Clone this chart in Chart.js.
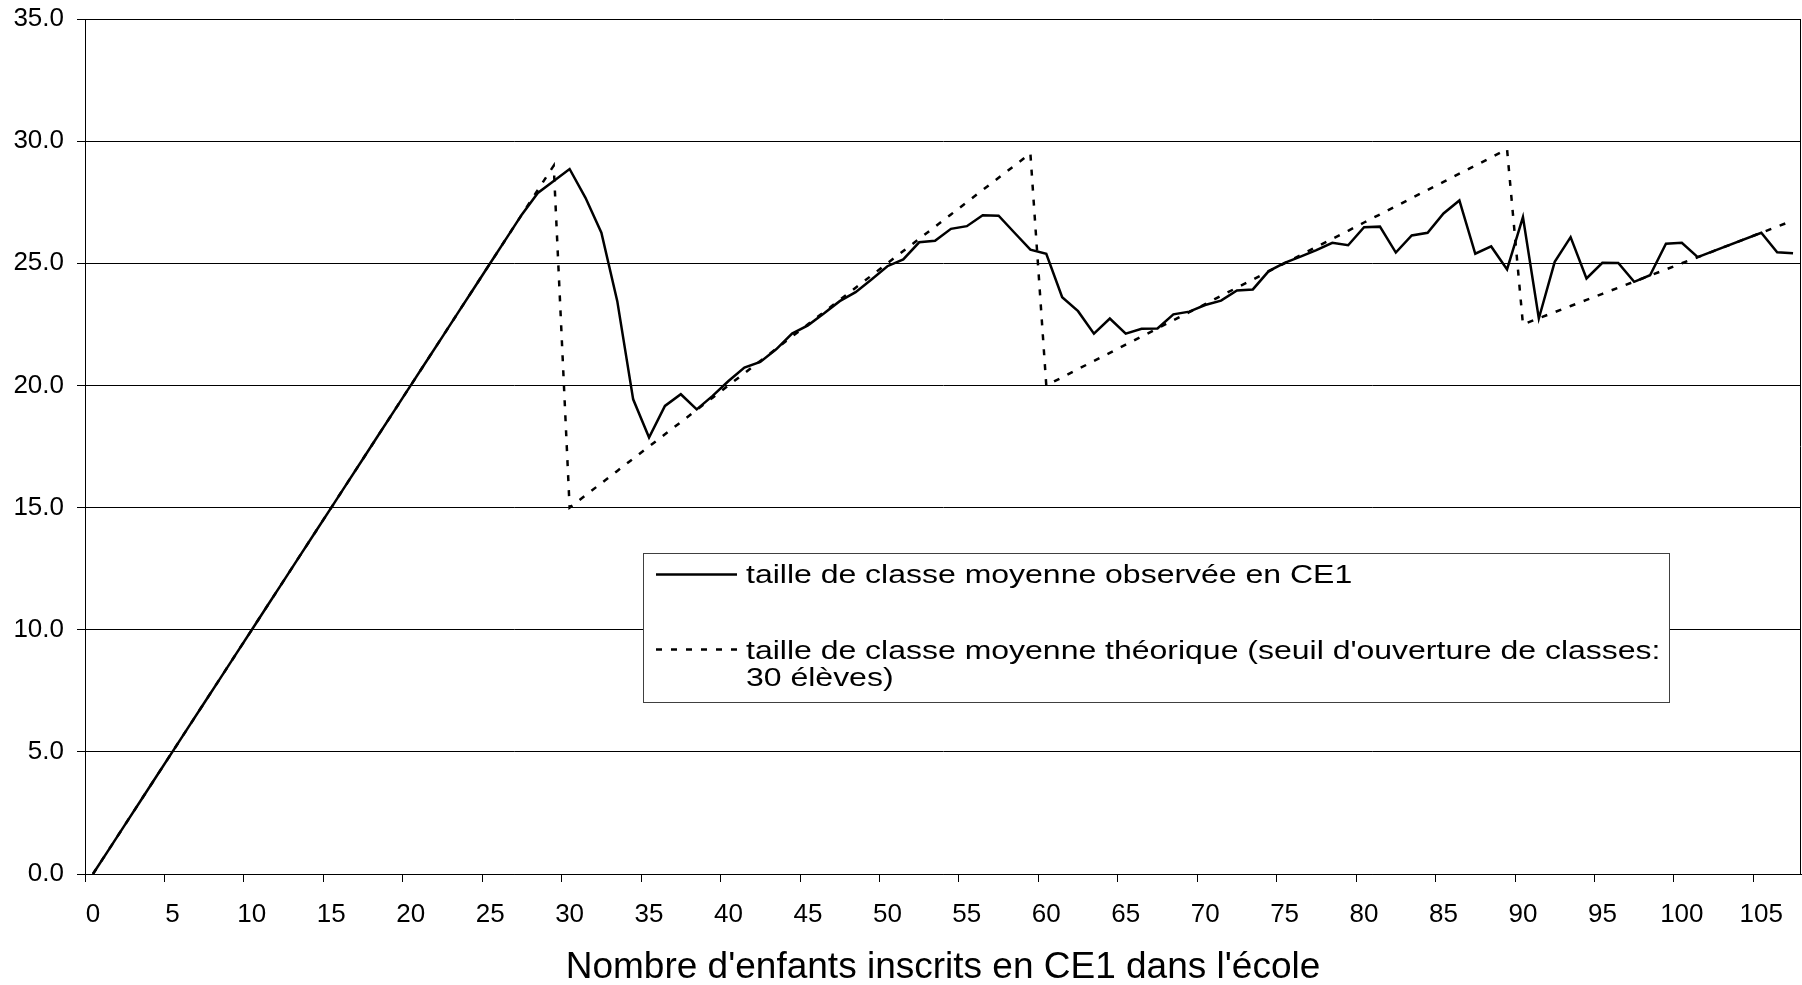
<!DOCTYPE html>
<html>
<head>
<meta charset="utf-8">
<script src="https://cdn.jsdelivr.net/npm/chart.js@4.4.1/dist/chart.umd.min.js"></script>
<style>
  html, body { margin: 0; padding: 0; background: #fff; }
</style>
</head>
<body>
<canvas id="classChart" width="1802" height="985"></canvas>
<script>
// number of CE1 pupils enrolled in the school
const categories = [
  0, 1, 2, 3, 4, 5, 6, 7, 8, 9,
  10, 11, 12, 13, 14, 15, 16, 17, 18, 19,
  20, 21, 22, 23, 24, 25, 26, 27, 28, 29,
  30, 31, 32, 33, 34, 35, 36, 37, 38, 39,
  40, 41, 42, 43, 44, 45, 46, 47, 48, 49,
  50, 51, 52, 53, 54, 55, 56, 57, 58, 59,
  60, 61, 62, 63, 64, 65, 66, 67, 68, 69,
  70, 71, 72, 73, 74, 75, 76, 77, 78, 79,
  80, 81, 82, 83, 84, 85, 86, 87, 88, 89,
  90, 91, 92, 93, 94, 95, 96, 97, 98, 99,
  100, 101, 102, 103, 104, 105, 106, 107
];

const observed = [
  0, 1, 2, 3, 4, 5, 6, 7, 8, 9,
  10, 11, 12, 13, 14, 15, 16, 17, 18, 19,
  20, 21, 22, 23, 24, 25, 26, 27, 27.88, 28.37,
  28.86, 27.68, 26.25, 23.45, 19.43, 17.87, 19.16, 19.64, 19.02, 19.57,
  20.18, 20.73, 20.96, 21.48, 22.12, 22.46, 22.94, 23.45, 23.82, 24.34,
  24.88, 25.16, 25.86, 25.92, 26.41, 26.52, 26.97, 26.95, 26.25, 25.56,
  25.39, 23.61, 23.04, 22.12, 22.74, 22.12, 22.32, 22.33, 22.91, 23.02,
  23.29, 23.47, 23.89, 23.93, 24.68, 25.02, 25.27, 25.54, 25.84, 25.74,
  26.48, 26.50, 25.44, 26.14, 26.25, 27.04, 27.57, 25.39, 25.69, 24.75,
  26.89, 22.74, 25.06, 26.07, 24.38, 25.02, 25.01, 24.24, 24.51, 25.80,
  25.84, 25.25, null, null, null, 26.25, 25.45, 25.41
];

// theoretical mean class size (opening threshold: 30 pupils)
const theoretical = [
  0, 1, 2, 3, 4, 5, 6, 7, 8, 9,
  10, 11, 12, 13, 14, 15, 16, 17, 18, 19,
  20, 21, 22, 23, 24, 25, 26, 27, 28, 29,
  15, 15.5, 16, 16.5, 17, 17.5, 18, 18.5, 19, 19.5,
  20, 20.5, 21, 21.5, 22, 22.5, 23, 23.5, 24, 24.5,
  25, 25.5, 26, 26.5, 27, 27.5, 28, 28.5, 29, 29.5,
  20, 20.33, 20.67, 21, 21.33, 21.67, 22, 22.33, 22.67, 23,
  23.33, 23.67, 24, 24.33, 24.67, 25, 25.33, 25.67, 26, 26.33,
  26.67, 27, 27.33, 27.67, 28, 28.33, 28.67, 29, 29.33, 29.67,
  22.5, 22.75, 23, 23.25, 23.5, 23.75, 24, 24.25, 24.5, 24.75,
  25, 25.25, 25.5, 25.75, 26, 26.25, 26.5, 26.75
];

const xTickLabels = [0, 5, 10, 15, 20, 25, 30, 35, 40, 45, 50, 55, 60, 65, 70, 75, 80, 85, 90, 95, 100, 105];
const seriesNames = [
  'taille de classe moyenne observée en CE1',
  "taille de classe moyenne théorique (seuil d'ouverture de classes: 30 élèves)"
];
const axisTitle = "Nombre d'enfants inscrits en CE1 dans l'école";

const fontFamily = '"Liberation Sans", Arial, sans-serif';
const dotPattern = [6, 9];

// right edge of the plot frame
const plotFrame = {
    id: 'plotFrame',
    afterDatasetsDraw(chart) {
        const { ctx, chartArea } = chart;
        const x = Math.round(chartArea.right) - 0.5;
        ctx.save();
        ctx.strokeStyle = '#000';
        ctx.lineWidth = 1;
        ctx.beginPath();
        ctx.moveTo(x, chartArea.top);
        ctx.lineTo(x, chartArea.bottom);
        ctx.stroke();
        ctx.restore();
    }
};

// boxed legend inside the plot, like the spreadsheet original
const legendBox = {
    id: 'legendBox',
    afterDatasetsDraw(chart) {
        const ctx = chart.ctx;
        const box = { x: 643.5, y: 553.5, w: 1026, h: 149 };
        const textX = 746, sx = 1.23, maxW = 925, lineGap = 26.7;
        const rows = [
            { sampleY: 574.5, baseline: 583.3 },
            { sampleY: 649.5, baseline: 659 }
        ];
        ctx.save();
        ctx.fillStyle = '#fff';
        ctx.fillRect(box.x, box.y, box.w, box.h);
        ctx.strokeStyle = '#404040';
        ctx.lineWidth = 1;
        ctx.strokeRect(box.x, box.y, box.w, box.h);

        ctx.font = '26px ' + fontFamily;
        ctx.fillStyle = '#000';
        ctx.textBaseline = 'alphabetic';
        ctx.textAlign = 'left';

        chart.data.datasets.forEach((ds, idx) => {
            const r = rows[idx];
            ctx.save();
            ctx.strokeStyle = ds.borderColor;
            ctx.lineWidth = ds.borderWidth;
            ctx.setLineDash(ds.borderDash || []);
            ctx.beginPath();
            ctx.moveTo(656, r.sampleY);
            ctx.lineTo(737, r.sampleY);
            ctx.stroke();
            ctx.restore();

            // wrap words to the box width
            const words = ds.label.split(' ');
            const lines = [];
            let cur = '';
            words.forEach(w => {
                const test = cur ? cur + ' ' + w : w;
                if (cur && ctx.measureText(test).width * sx > maxW) {
                    lines.push(cur);
                    cur = w;
                } else {
                    cur = test;
                }
            });
            if (cur) lines.push(cur);

            lines.forEach((line, li) => {
                ctx.save();
                ctx.translate(textX, r.baseline + li * lineGap);
                ctx.scale(sx, 1);
                ctx.fillText(line, 0, 0);
                ctx.restore();
            });
        });
        ctx.restore();
    }
};

const ctxClass = document.getElementById('classChart').getContext('2d');
const classChart = new Chart(ctxClass, {
    type: 'line',
    data: {
        labels: categories,
        datasets: [{
            label: seriesNames[0],
            data: observed,
            borderColor: '#000',
            borderWidth: 2.5,
            pointRadius: 0,
            tension: 0,
            spanGaps: true
        }, {
            label: seriesNames[1],
            data: theoretical,
            borderColor: '#000',
            borderWidth: 2.5,
            borderDash: dotPattern,
            pointRadius: 0,
            tension: 0
        }]
    },
    options: {
        responsive: false,
        animation: false,
        devicePixelRatio: 1,
        layout: {
            padding: { top: 19, right: 1, bottom: 0, left: 0 }
        },
        plugins: {
            legend: { display: false },
            tooltip: { enabled: false }
        },
        scales: {
            x: {
                type: 'category',
                offset: true,
                grid: {
                    offset: true,
                    drawOnChartArea: false,
                    drawTicks: true,
                    tickLength: 8,
                    lineWidth: 1,
                    color: c => (c.index !== undefined && c.index % 5 === 0) ? '#000' : 'rgba(0,0,0,0)'
                },
                border: { display: true, color: '#000', width: 1 },
                ticks: {
                    autoSkip: false,
                    maxRotation: 0,
                    minRotation: 0,
                    padding: 17,
                    color: '#000',
                    font: { family: fontFamily, size: 26 },
                    callback: (v, i) => xTickLabels.includes(categories[i]) ? String(categories[i]) : ''
                },
                title: {
                    display: true,
                    text: axisTitle,
                    color: '#000',
                    font: { family: fontFamily, size: 37, lineHeight: 1.1 },
                    padding: { top: 0, bottom: -3 }
                },
                afterFit: scale => {
                    scale.height = 111;
                    scale.paddingLeft = 0;
                    scale.paddingRight = 0;
                }
            },
            y: {
                min: 0,
                max: 35,
                ticks: {
                    stepSize: 5,
                    padding: 13,
                    color: '#000',
                    font: { family: fontFamily, size: 26 },
                    callback: v => Number(v).toFixed(1)
                },
                grid: {
                    color: '#000',
                    lineWidth: 1,
                    drawTicks: true,
                    tickLength: 8
                },
                border: { display: true, color: '#000', width: 1 },
                afterFit: scale => {
                    scale.width = 85;
                    scale.paddingTop = 0;
                    scale.paddingBottom = 0;
                }
            }
        }
    },
    plugins: [plotFrame, legendBox]
});
</script>
</body>
</html>
